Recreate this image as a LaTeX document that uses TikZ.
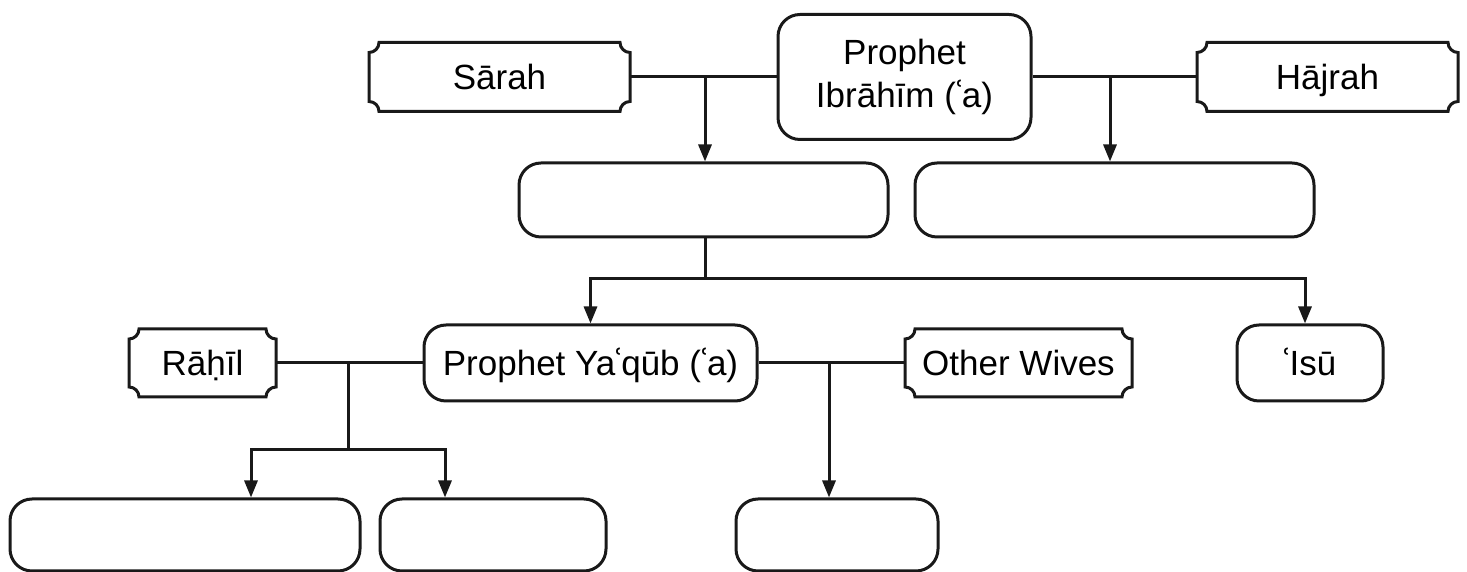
\documentclass[tikz,border=0pt]{standalone}
\usepackage{fontspec}
\setmainfont{Liberation Sans}
\newfontfamily\ayfont{Noto Sans}
\usetikzlibrary{arrows.meta}
\newcommand\ayn{{\ayfont ʿ}}
\newcommand\scrollframe[1]{%
  \draw[lw] ([xshift=10pt]#1.north west) -- ([xshift=-10pt]#1.north east)
    arc[start angle=180,end angle=270,radius=10pt]
    -- ([yshift=10pt]#1.south east)
    arc[start angle=90,end angle=180,radius=10pt]
    -- ([xshift=10pt]#1.south west)
    arc[start angle=0,end angle=90,radius=10pt]
    -- ([yshift=-10pt]#1.north west)
    arc[start angle=270,end angle=360,radius=10pt] -- cycle;}
\begin{document}
\begin{tikzpicture}[x=1pt,y=1pt]
\tikzset{
  lw/.style={line width=3pt, draw=black!90},
  txt/.style={font=\fontsize{35}{43}\selectfont, align=center, inner sep=0pt},
  one/.style={text height=25pt, text depth=0pt},
  rbox/.style={txt, lw, draw, rounded corners=22pt},
  sbox/.style={txt, one, outer sep=0pt},
  link/.style={lw},
  arr/.style={lw, -{Triangle[length=17pt,width=13pt]}},
}
\useasboundingbox (0,0) rectangle (1467,572);
% top row
\node[rbox, minimum width=253pt, minimum height=125pt] (ibr) at (904.5,495) {\raisebox{-3pt}{\parbox{240pt}{\centering Prophet\\Ibrāhīm (\ayn a)}}};
\node[sbox, minimum width=261pt, minimum height=69pt] (sarah) at (499.5,495) {Sārah};
\node[sbox, minimum width=261pt, minimum height=69pt] (hajrah) at (1327.5,495) {Hājrah};
\scrollframe{sarah}
\scrollframe{hajrah}
% second row
\node[rbox, minimum width=369pt, minimum height=74pt] (A) at (703.5,372) {};
\node[rbox, minimum width=399pt, minimum height=74pt] (B) at (1114.5,372) {};
% third row
\node[rbox, one, minimum width=333pt, minimum height=76pt] (yaq) at (590.5,209) {Prophet Ya\ayn qūb (\ayn a)};
\node[rbox, one, minimum width=146pt, minimum height=76pt] (isu) at (1310,209) {\ayn Isū};
\node[sbox, minimum width=147pt, minimum height=68pt] (rahil) at (202.5,209) {Rāḥīl};
\node[sbox, minimum width=227pt, minimum height=68pt] (other) at (1018.5,209) {Other Wives};
\scrollframe{rahil}
\scrollframe{other}
% bottom row
\node[rbox, minimum width=350pt, minimum height=72pt] (C) at (185,37) {};
\node[rbox, minimum width=226pt, minimum height=72pt] (D) at (493,37) {};
\node[rbox, minimum width=202pt, minimum height=72pt] (E) at (837,37) {};
% connectors
\coordinate (j1) at (705,495);
\coordinate (j2) at (1110,495);
\coordinate (j3) at (705,293);
\coordinate (j4) at (348,209);
\coordinate (j5) at (348,122);
\coordinate (j6) at (829,209);
\draw[link] (sarah.east) -- (ibr.west);
\draw[link] (ibr.east) -- (hajrah.west);
\draw[arr] (j1) -- (j1 |- A.north);
\draw[arr] (j2) -- (j2 |- B.north);
\draw[link] (j3 |- A.south) -- (j3);
\draw[arr] (j3) -| (yaq.north);
\draw[arr] (j3) -| ([xshift=-5pt]isu.north);
\draw[link] (rahil.east) -- (yaq.west);
\draw[link] (yaq.east) -- (other.west);
\draw[link] (j4) -- (j5);
\draw[arr] (j5) -| ([xshift=66pt]C.north);
\draw[arr] (j5) -| ([xshift=-48pt]D.north);
\draw[arr] (j6) -- (j6 |- E.north);
\end{tikzpicture}
\end{document}
